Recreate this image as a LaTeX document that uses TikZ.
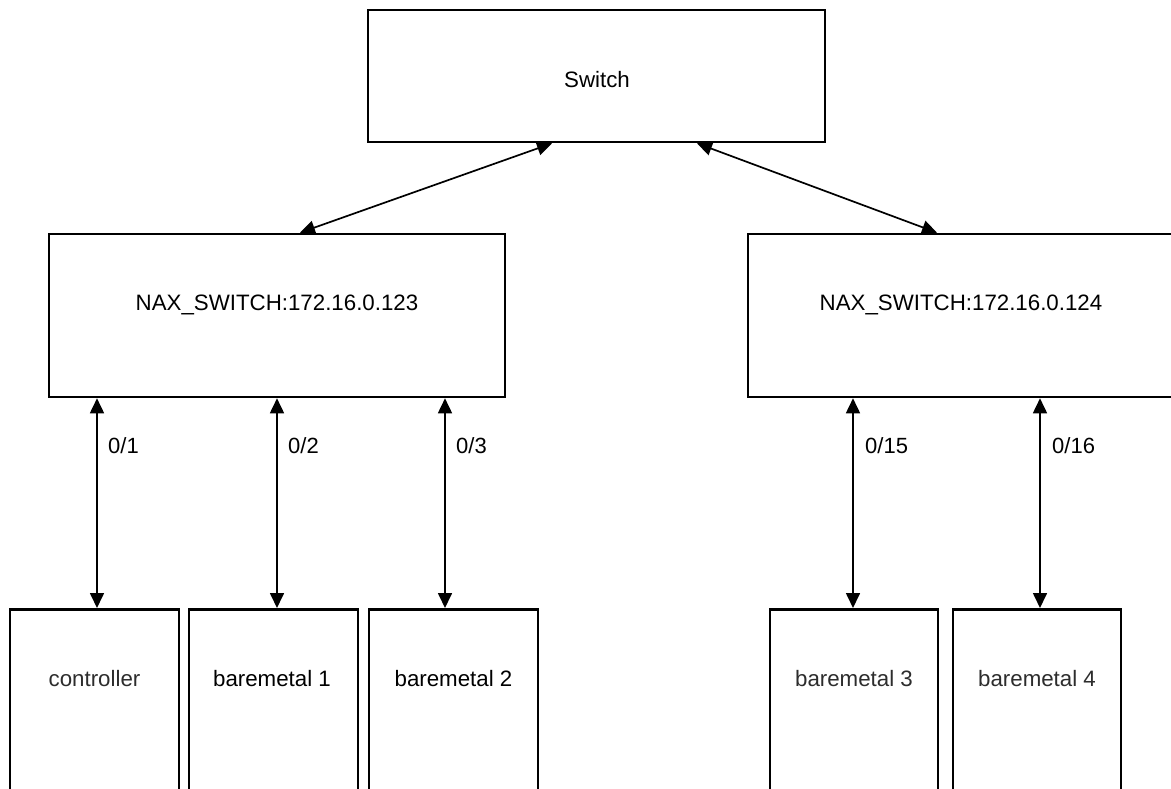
\documentclass[tikz,border=0pt]{standalone}
\usepackage{fontspec}
\setmainfont{Liberation Sans}
\usetikzlibrary{arrows.meta}
\definecolor{softtext}{RGB}{45,45,45}
\tikzset{
  box/.style={draw=black, line width=2.6pt, fill=white, rectangle, inner sep=0pt},
  link/.style={draw=black, line width=1.7pt, {Triangle[length=15pt,width=14pt]}-{Triangle[length=15pt,width=14pt]}},
  lbl/.style={font=\fontsize{22.3}{26}\selectfont, inner sep=0pt},
  port/.style={font=\fontsize{22}{26}\selectfont, inner sep=0pt, anchor=west}
}
\begin{document}
\begin{tikzpicture}[x=1pt, y=-1pt]
\useasboundingbox (0,0) rectangle (1171,789);
\clip (0,0) rectangle (1171,789);
\fill[white] (0,0) rectangle (1171,789);

% core switch
\node[box, minimum width=457pt, minimum height=132pt] (core) at (596.5,76) {};
\node[lbl] (coret) at (597,80) {Switch};

% access switches
\node[box, minimum width=456pt, minimum height=163pt] (nax1) at (277,315.5) {};
\node[box, minimum width=426pt, minimum height=163pt] (nax2) at (961,315.5) {};
\node[lbl] (nax1t) at (277,305) {NAX\_SWITCH:172.16.0.123};
\node[lbl] (nax2t) at (961,305) {NAX\_SWITCH:172.16.0.124};

% hosts (boxes run past the lower edge)
\node[box, minimum width=169pt, minimum height=260pt, anchor=north] (ctrl) at (94.5,608) {};
\node[box, minimum width=169pt, minimum height=260pt, anchor=north] (bm1) at (273.5,608) {};
\node[box, minimum width=169pt, minimum height=260pt, anchor=north] (bm2) at (453.5,608) {};
\node[box, minimum width=168pt, minimum height=260pt, anchor=north] (bm3) at (854,608) {};
\node[box, minimum width=168pt, minimum height=260pt, anchor=north] (bm4) at (1037,608) {};

\node[lbl, text=softtext] (ctrlt) at (94.5,679) {controller};
\node[lbl] (bm1t) at (272,679) {baremetal 1};
\node[lbl] (bm2t) at (453.5,679) {baremetal 2};
\node[lbl, text=softtext] (bm3t) at (854,679) {baremetal 3};
\node[lbl, text=softtext] (bm4t) at (1037,679) {baremetal 4};

% uplinks
\draw[link] (core.south -| 552,0) -- (nax1.north -| 300,0);
\draw[link] (core.south -| 697,0) -- (nax2.north -| 937,0);

% host links
\draw[link] (nax1.south -| 97,0) -- (ctrl.north -| 97,0);
\draw[link] (nax1.south -| 277,0) -- (bm1.north -| 277,0);
\draw[link] (nax1.south -| 445,0) -- (bm2.north -| 445,0);
\draw[link] (nax2.south -| 853,0) -- (bm3.north -| 853,0);
\draw[link] (nax2.south -| 1040,0) -- (bm4.north -| 1040,0);

% port labels
\node[port] (p1) at (108,446) {0/1};
\node[port] (p2) at (288,446) {0/2};
\node[port] (p3) at (456,446) {0/3};
\node[port] (p15) at (865,446) {0/15};
\node[port] (p16) at (1052,446) {0/16};
\end{tikzpicture}
\end{document}
